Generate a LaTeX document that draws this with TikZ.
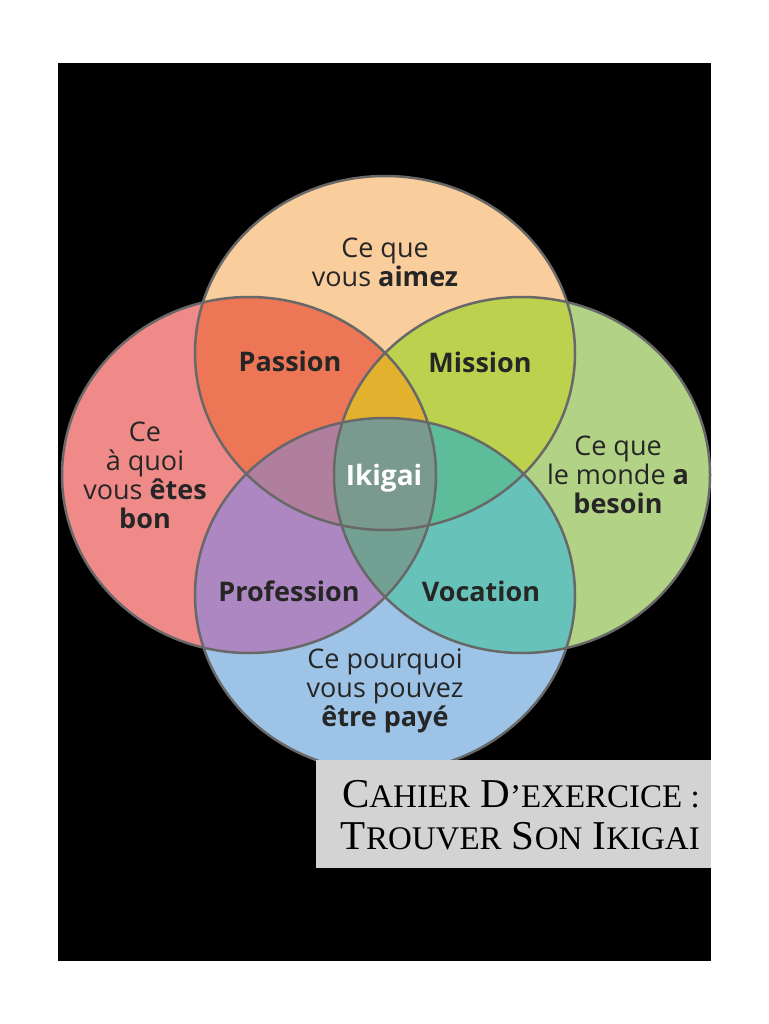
\documentclass[tikz,border=0pt]{standalone}
\usepackage{fontspec}
\setmainfont{Open Sans}
\newfontfamily\titlefont{Liberation Serif}
\definecolor{cTop}{HTML}{F9CD9C}
\definecolor{cLeft}{HTML}{EF8A89}
\definecolor{cRight}{HTML}{B2D286}
\definecolor{cBottom}{HTML}{9DC3E6}
\definecolor{cPassion}{HTML}{EC7655}
\definecolor{cMission}{HTML}{BCD24E}
\definecolor{cGold}{HTML}{E2B12E}
\definecolor{cProfession}{HTML}{AD87C1}
\definecolor{cVocation}{HTML}{67C3B9}
\definecolor{cMauve}{HTML}{B17F9E}
\definecolor{cTeal}{HTML}{5DBD9B}
\definecolor{cBelow}{HTML}{72A092}
\definecolor{cIkigai}{HTML}{7B9A8F}
\definecolor{cLine}{HTML}{686868}
\definecolor{cBox}{HTML}{D3D3D3}
\newcommand\SmCap[2]{{\fontsize{41}{42}\selectfont #1}{\fontsize{33}{42}\selectfont #2}}
\def\ETop{(385,353) ellipse [x radius=190, y radius=177]}
\def\ELeft{(249,475) ellipse [x radius=187, y radius=178]}
\def\ERight{(522,475) ellipse [x radius=188, y radius=178]}
\def\EBottom{(385,595) ellipse [x radius=190, y radius=177]}
\begin{document}
\begin{tikzpicture}[x=1pt,y=-1pt,
  lbl/.style={align=center, text=black!85, font=\fontsize{27}{29}\selectfont, inner sep=0pt},
  blbl/.style={lbl, font=\fontsize{27}{29}\selectfont\bfseries}]
\useasboundingbox (0,0) rectangle (768,1024);
\fill[white] (0,0) rectangle (768,1024);
\fill[black] (58,63) rectangle (711,961);
% base ellipses
\fill[cTop] \ETop;
\fill[cLeft] \ELeft;
\fill[cRight] \ERight;
\fill[cBottom] \EBottom;
% pairs
\begin{scope}\clip \ETop; \fill[cPassion] \ELeft; \fill[cMission] \ERight; \end{scope}
\begin{scope}\clip \EBottom; \fill[cProfession] \ELeft; \fill[cVocation] \ERight; \end{scope}
% triples
\begin{scope}\clip \ETop; \clip \ELeft; \fill[cGold] \ERight; \fill[cMauve] \EBottom; \end{scope}
\begin{scope}\clip \ETop; \clip \ERight; \fill[cTeal] \EBottom; \end{scope}
\begin{scope}\clip \EBottom; \clip \ELeft; \fill[cBelow] \ERight; \end{scope}
% all four
\begin{scope}\clip \ETop; \clip \ELeft; \clip \ERight; \fill[cIkigai] \EBottom; \end{scope}
% outlines
\draw[cLine, line width=2.5pt] \ETop \ELeft \ERight \EBottom;
% labels
\node[lbl] (top) at (385,262) {Ce que\\vous \textbf{aimez}};
\node[blbl] (passion) at (290,361) {Passion};
\node[blbl] (mission) at (480,362) {Mission};
\node[lbl] (left) at (145,475) {Ce\\à quoi\\vous \textbf{êtes}\\\textbf{bon}};
\node[lbl] (right) at (618,475) {Ce que\\le monde \textbf{a}\\\textbf{besoin}};
\node[blbl, text=white, font=\fontsize{28}{29}\selectfont\bfseries] (ikigai) at (384,478) {Ikigai};
\node[blbl] (profession) at (289,591) {Profession};
\node[blbl] (vocation) at (481,591) {Vocation};
\node[lbl] (bottom) at (385,691) {Ce pourquoi\\vous pouvez\\\textbf{être payé}};
% title box
\fill[cBox] (316,760) rectangle (711,868);
\node[anchor=east, align=right, inner sep=0pt, font=\titlefont\fontsize{41}{42}\selectfont] (title) at (700,815)
  {\SmCap{C}{AHIER} \SmCap{D}{’EXERCICE :}\\\SmCap{T}{ROUVER} \SmCap{S}{ON} \SmCap{I}{KIGAI}};
\end{tikzpicture}
\end{document}
